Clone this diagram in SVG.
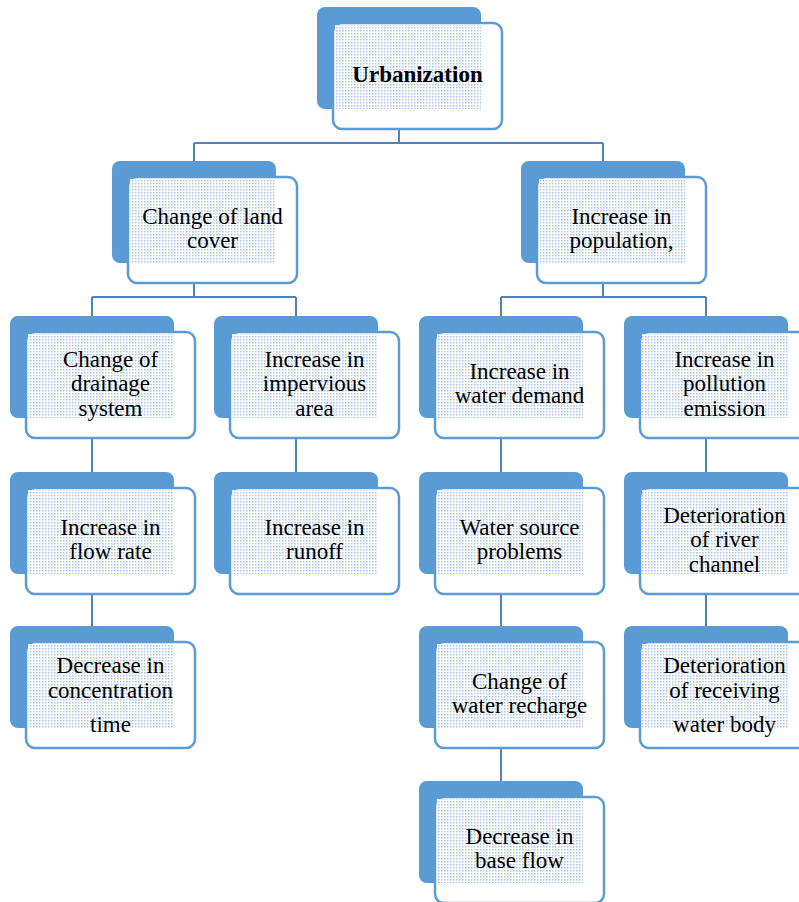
<svg xmlns="http://www.w3.org/2000/svg" width="799" height="902" viewBox="0 0 799 902">
  <defs>
    <pattern id="dots" width="3" height="3" patternUnits="userSpaceOnUse">
      <rect width="3" height="3" fill="#ffffff"/>
      <rect width="1.5" height="1.5" fill="#A9C5E8"/>
    </pattern>
    <style>
      .back { fill: #5B9BD5; }
      .front { fill: #ffffff; stroke: #5B9BD5; stroke-width: 2.5; }
      .tex { fill: url(#dots); }
      .lbl { font-family: "Liberation Serif", "Times New Roman", serif; font-size: 23px; fill: #000; text-anchor: middle; }
      .bold { font-weight: bold; }
      .wire { fill: none; stroke: #4F81BD; stroke-width: 2; }
    </style>
  </defs>
  <rect width="799" height="902" fill="#ffffff"/>

  <!-- connectors -->
  <g id="connectors" class="wire">
    <path d="M399 129 V143 M194 143 H603 M194 143 V161 M603 143 V161"/>
    <path d="M194 283 V297 M92 297 H296 M92 297 V316 M296 297 V316"/>
    <path d="M603 283 V297 M501 297 H706 M501 297 V316 M706 297 V316"/>
    <path d="M92 438 V472 M92 594 V626"/>
    <path d="M296 438 V472"/>
    <path d="M501 438 V472 M501 594 V626 M501 748 V781"/>
    <path d="M706 438 V472 M706 594 V626"/>
  </g>

  <!-- level 1 -->
  <g id="urbanization">
    <rect class="back" x="317" y="7" width="164" height="102" rx="8"/>
    <rect class="front" x="333" y="23" width="169" height="106" rx="9"/>
    <rect class="tex" x="335" y="25" width="146" height="84"/>
    <text class="lbl bold" x="417.5" y="82">Urbanization</text>
  </g>

  <!-- level 2 -->
  <g id="land-cover">
    <rect class="back" x="112" y="161" width="164" height="102" rx="8"/>
    <rect class="front" x="128" y="177" width="169" height="106" rx="9"/>
    <rect class="tex" x="130" y="179" width="146" height="84"/>
    <text class="lbl"><tspan x="212.5" y="223.75">Change of land</tspan><tspan x="212.5" y="248.25">cover</tspan></text>
  </g>
  <g id="population">
    <rect class="back" x="521" y="161" width="164" height="102" rx="8"/>
    <rect class="front" x="537" y="177" width="169" height="106" rx="9"/>
    <rect class="tex" x="539" y="179" width="146" height="84"/>
    <text class="lbl"><tspan x="621.5" y="223.75">Increase in</tspan><tspan x="621.5" y="248.25">population,</tspan></text>
  </g>

  <!-- level 3 -->
  <g id="drainage">
    <rect class="back" x="10" y="316" width="164" height="102" rx="8"/>
    <rect class="front" x="26" y="332" width="169" height="106" rx="9"/>
    <rect class="tex" x="28" y="334" width="146" height="84"/>
    <text class="lbl"><tspan x="110.5" y="366.5">Change of</tspan><tspan x="110.5" y="391">drainage</tspan><tspan x="110.5" y="415.5">system</tspan></text>
  </g>
  <g id="impervious">
    <rect class="back" x="214" y="316" width="164" height="102" rx="8"/>
    <rect class="front" x="230" y="332" width="169" height="106" rx="9"/>
    <rect class="tex" x="232" y="334" width="146" height="84"/>
    <text class="lbl"><tspan x="314.5" y="366.5">Increase in</tspan><tspan x="314.5" y="391">impervious</tspan><tspan x="314.5" y="415.5">area</tspan></text>
  </g>
  <g id="water-demand">
    <rect class="back" x="419" y="316" width="164" height="102" rx="8"/>
    <rect class="front" x="435" y="332" width="169" height="106" rx="9"/>
    <rect class="tex" x="437" y="334" width="146" height="84"/>
    <text class="lbl"><tspan x="519.5" y="378.75">Increase in</tspan><tspan x="519.5" y="403.25">water demand</tspan></text>
  </g>
  <g id="pollution">
    <rect class="back" x="624" y="316" width="164" height="102" rx="8"/>
    <rect class="front" x="640" y="332" width="169" height="106" rx="9"/>
    <rect class="tex" x="642" y="334" width="146" height="84"/>
    <text class="lbl"><tspan x="724.5" y="366.5">Increase in</tspan><tspan x="724.5" y="391">pollution</tspan><tspan x="724.5" y="415.5">emission</tspan></text>
  </g>

  <!-- level 4 -->
  <g id="flow-rate">
    <rect class="back" x="10" y="472" width="164" height="102" rx="8"/>
    <rect class="front" x="26" y="488" width="169" height="106" rx="9"/>
    <rect class="tex" x="28" y="490" width="146" height="84"/>
    <text class="lbl"><tspan x="110.5" y="534.75">Increase in</tspan><tspan x="110.5" y="559.25">flow rate</tspan></text>
  </g>
  <g id="runoff">
    <rect class="back" x="214" y="472" width="164" height="102" rx="8"/>
    <rect class="front" x="230" y="488" width="169" height="106" rx="9"/>
    <rect class="tex" x="232" y="490" width="146" height="84"/>
    <text class="lbl"><tspan x="314.5" y="534.75">Increase in</tspan><tspan x="314.5" y="559.25">runoff</tspan></text>
  </g>
  <g id="water-source">
    <rect class="back" x="419" y="472" width="164" height="102" rx="8"/>
    <rect class="front" x="435" y="488" width="169" height="106" rx="9"/>
    <rect class="tex" x="437" y="490" width="146" height="84"/>
    <text class="lbl"><tspan x="519.5" y="534.75">Water source</tspan><tspan x="519.5" y="559.25">problems</tspan></text>
  </g>
  <g id="river-channel">
    <rect class="back" x="624" y="472" width="164" height="102" rx="8"/>
    <rect class="front" x="640" y="488" width="169" height="106" rx="9"/>
    <rect class="tex" x="642" y="490" width="146" height="84"/>
    <text class="lbl"><tspan x="724.5" y="522.5">Deterioration</tspan><tspan x="724.5" y="547">of river</tspan><tspan x="724.5" y="571.5">channel</tspan></text>
  </g>

  <!-- level 5 -->
  <g id="concentration">
    <rect class="back" x="10" y="626" width="164" height="102" rx="8"/>
    <rect class="front" x="26" y="642" width="169" height="106" rx="9"/>
    <rect class="tex" x="28" y="644" width="146" height="84"/>
    <text class="lbl"><tspan x="110.5" y="673">Decrease in</tspan><tspan x="110.5" y="698">concentration</tspan><tspan x="110.5" y="732">time</tspan></text>
  </g>
  <g id="recharge">
    <rect class="back" x="419" y="626" width="164" height="102" rx="8"/>
    <rect class="front" x="435" y="642" width="169" height="106" rx="9"/>
    <rect class="tex" x="437" y="644" width="146" height="84"/>
    <text class="lbl"><tspan x="519.5" y="688.75">Change of</tspan><tspan x="519.5" y="713.25">water recharge</tspan></text>
  </g>
  <g id="receiving-water">
    <rect class="back" x="624" y="626" width="164" height="102" rx="8"/>
    <rect class="front" x="640" y="642" width="169" height="106" rx="9"/>
    <rect class="tex" x="642" y="644" width="146" height="84"/>
    <text class="lbl"><tspan x="724.5" y="673">Deterioration</tspan><tspan x="724.5" y="698">of receiving</tspan><tspan x="724.5" y="732">water body</tspan></text>
  </g>

  <!-- level 6 -->
  <g id="base-flow">
    <rect class="back" x="419" y="781" width="164" height="102" rx="8"/>
    <rect class="front" x="435" y="797" width="169" height="106" rx="9"/>
    <rect class="tex" x="437" y="799" width="146" height="84"/>
    <text class="lbl"><tspan x="519.5" y="843.75">Decrease in</tspan><tspan x="519.5" y="868.25">base flow</tspan></text>
  </g>
</svg>
